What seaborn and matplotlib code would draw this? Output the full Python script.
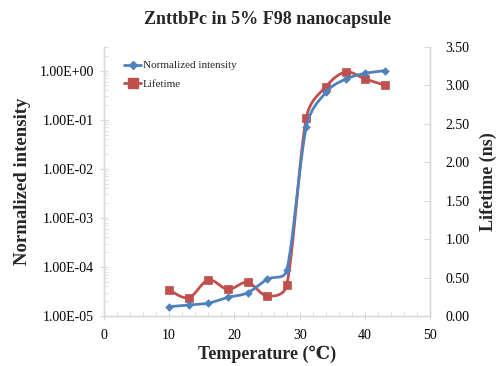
import numpy as np
import pandas as pd
import matplotlib
matplotlib.use("Agg")
import matplotlib.pyplot as plt
import seaborn as sns
from matplotlib.lines import Line2D
from matplotlib.ticker import FixedLocator, LogLocator, NullFormatter, FuncFormatter

# data
temperature = [10, 13, 16, 19, 22, 25, 28, 31, 34, 37, 40, 43]
intensity = [1.55e-5, 1.67e-5, 1.83e-5, 2.4e-5, 2.97e-5, 5.6e-5, 8.6e-5,
             0.071, 0.36, 0.67, 0.88, 1.0]
lifetime = [0.338, 0.238, 0.468, 0.346, 0.437, 0.26, 0.40,
            2.576, 2.98, 3.17, 3.08, 3.00]

BLUE = "#4F81BD"
RED = "#C0504D"
SPINE = "#d9d9d9"


def smooth(x, y, sx=1.0, sy=1.0, n=40):
    # Excel-like smoothed line: Bezier segments with capped Catmull-Rom tangents,
    # computed in (approximate) screen units so the capping behaves like Excel
    p = np.column_stack([np.asarray(x, float) * sx, np.asarray(y, float) * sy])
    p = np.vstack([p[:1], p, p[-1:]])
    t = np.linspace(0, 1, n)[:, None]
    out = []
    for i in range(1, len(p) - 2):
        p0, p1, p2, p3 = p[i - 1], p[i], p[i + 1], p[i + 2]
        d12 = np.linalg.norm(p2 - p1)
        d02 = np.linalg.norm(p2 - p0)
        d13 = np.linalg.norm(p3 - p1)
        f1 = 1 / 6
        if d02 / 6 > d12 / 2 and d02 > 0:
            f1 = d12 / (2 * d02)
        f2 = 1 / 6
        if d13 / 6 > d12 / 2 and d13 > 0:
            f2 = d12 / (2 * d13)
        c1 = p1 + (p2 - p0) * f1
        c2 = p2 - (p3 - p1) * f2
        b = (1 - t) ** 3 * p1 + 3 * (1 - t) ** 2 * t * c1 + 3 * (1 - t) * t ** 2 * c2 + t ** 3 * p2
        out.append(b)
    out = np.vstack(out)
    return out[:, 0] / sx, out[:, 1] / sy


sns.set_style("white")
plt.rcParams["font.family"] = ["Liberation Serif", "DejaVu Serif"]

fig = plt.figure(figsize=(5.04, 3.66), dpi=100)
ax = fig.add_axes([0.206, 0.1366, 0.648, 0.736])
ax2 = ax.twinx()

df = pd.DataFrame({"Temperature": temperature, "Intensity": intensity, "Lifetime": lifetime})

# intensity, smoothed in log space (6.53 px per degree, 49.2 px per decade)
lx, ly = smooth(df["Temperature"], np.log10(df["Intensity"]), 6.53, 49.2)
sns.lineplot(x=lx, y=10 ** ly, ax=ax, color=BLUE, linewidth=2, sort=False, estimator=None)
sns.scatterplot(data=df, x="Temperature", y="Intensity", ax=ax, color=BLUE, marker="D",
                s=16, edgecolor=BLUE, zorder=4)

# lifetime (77 px per ns)
rx, ry = smooth(df["Temperature"], df["Lifetime"], 6.53, 77.0)
sns.lineplot(x=rx, y=ry, ax=ax2, color=RED, linewidth=2, sort=False, estimator=None)
sns.scatterplot(data=df, x="Temperature", y="Lifetime", ax=ax2, color=RED, marker="s",
                s=40, edgecolor=RED, zorder=4)

ax.set_yscale("log")
ax.set_xlim(0, 50)
ax.set_ylim(1e-5, 10 ** 0.49)
ax2.set_ylim(0, 3.5)

ax.set_xticks(range(0, 51, 10))
ax.xaxis.set_minor_locator(FixedLocator(np.arange(0, 51, 2)))
ax.yaxis.set_major_locator(FixedLocator([1e-5, 1e-4, 1e-3, 1e-2, 1e-1, 1e0]))
ax.yaxis.set_minor_locator(LogLocator(base=10, subs=np.arange(2, 10), numticks=20))
ax.yaxis.set_minor_formatter(NullFormatter())
ax.yaxis.set_major_formatter(FuncFormatter(lambda v, p: "%.2E" % v))
ax2.set_yticks(np.arange(0, 3.51, 0.5))
ax2.yaxis.set_major_formatter(FuncFormatter(lambda v, p: "%.2f" % v))

for a in (ax, ax2):
    for s in a.spines.values():
        s.set_color(SPINE)
        s.set_linewidth(1)
ax.spines["top"].set_visible(False)
ax2.spines["top"].set_visible(False)

ax.tick_params(axis="both", which="major", direction="inout", length=6, color=SPINE,
               labelsize=10, labelcolor="black", pad=4)
ax.tick_params(axis="x", which="major", pad=6)
ax.tick_params(axis="both", which="minor", direction="in", length=3, color=SPINE)
ax.tick_params(axis="y", which="major", left=True, right=False)
ax.tick_params(axis="x", which="both", bottom=True, top=False)
ax2.tick_params(axis="y", which="major", direction="in", length=4, color=SPINE,
                labelsize=10, labelcolor="black", pad=11)

ax.set_xlabel("Temperature (\u2103)", fontsize=13, fontweight="bold", labelpad=3)
ax.set_ylabel("Normalized intensity", fontsize=13.5, fontweight="bold", labelpad=6)
ax2.set_ylabel("Lifetime (ns)", fontsize=13, fontweight="bold", labelpad=7)
ax.set_title("ZnttbPc in 5% F98 nanocapsule", fontsize=13, fontweight="bold", pad=16)

handles = [
    Line2D([], [], color=BLUE, marker="D", markersize=4, linewidth=2),
    Line2D([], [], color=RED, marker="s", markersize=7, linewidth=2),
]
ax2.legend(handles, ["Normalized intensity", "Lifetime"], loc="upper left",
           bbox_to_anchor=(0.03, 0.985), frameon=False, fontsize=8, handlelength=1.6,
           handletextpad=0.15, labelspacing=0.75)

ax.set_zorder(ax2.get_zorder() + 1)
ax.patch.set_visible(False)

fig.savefig("out.png", dpi=100)
